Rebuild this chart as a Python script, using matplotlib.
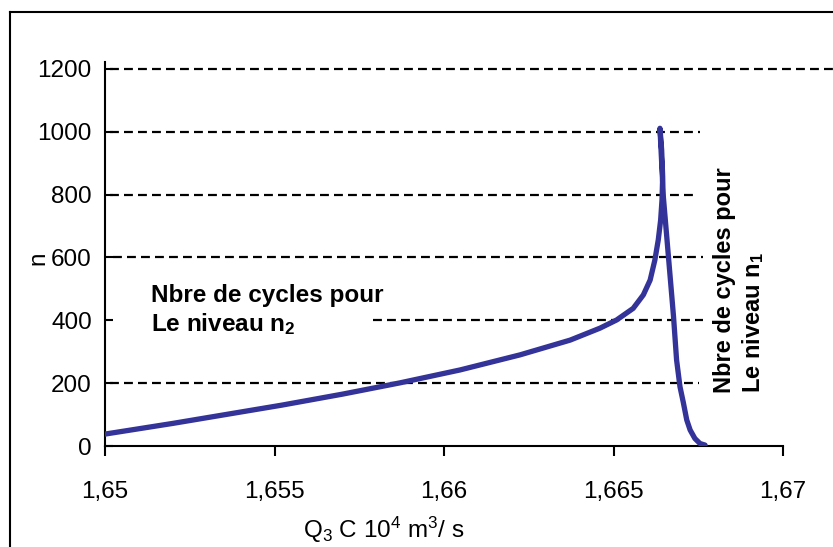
import matplotlib
matplotlib.use("Agg")
import matplotlib.pyplot as plt
from matplotlib.lines import Line2D

plt.rcParams["font.family"] = ["Liberation Sans", "DejaVu Sans"]
plt.rcParams["mathtext.fontset"] = "custom"
plt.rcParams["mathtext.rm"] = "Liberation Sans"
plt.rcParams["mathtext.default"] = "regular"

# ----------------------------------------------------------
# Data : number of cycles n against Q3C
# ----------------------------------------------------------

q3c = [1.65000, 1.65200, 1.65521, 1.65700, 1.65870, 1.66047, 1.66224,
       1.66372, 1.66460, 1.66509, 1.66558, 1.66588, 1.66608, 1.66622,
       1.66632, 1.66639, 1.66643, 1.66645, 1.66642, 1.66637,
       1.66647, 1.66657, 1.66667, 1.66677, 1.66686, 1.66696, 1.66706,
       1.66716, 1.66726, 1.66740, 1.66755, 1.66770]
n_cycles = [38, 72, 130, 165, 201, 242, 290,
            337, 375, 401, 438, 481, 528, 592,
            656, 719, 783, 857, 942, 1011,
            793, 666, 539, 412, 274, 189, 138,
            83, 51, 24, 8, 3]

x_ticks = [1.65, 1.655, 1.66, 1.665, 1.67]
x_tick_labels = ["1,65", "1,655", "1,66", "1,665", "1,67"]
y_ticks = [0, 200, 400, 600, 800, 1000, 1200]

# dashed reference levels and where each one starts / stops
grid_levels = [200, 400, 600, 800, 1000, 1200]
grid_start = [1.65015, 1.65791, 1.65024, 1.65015, 1.65015, 1.65015]
grid_end = [1.66752, 1.66764, 1.66764, 1.66750, 1.66755, 1.6720]

# ----------------------------------------------------------
# Figure
# ----------------------------------------------------------

fig = plt.figure(figsize=(8.33, 5.47), dpi=100)
ax = fig.add_axes([0.1261, 0.1846, 0.8139, 0.7021])

for lev, x0, x1 in zip(grid_levels, grid_start, grid_end):
    ax.plot([x0, x1], [lev, lev], color="black", lw=1.6,
            dashes=(4, 2.3), clip_on=False, zorder=1)

ax.plot(q3c, n_cycles, color="#333399", lw=3.8,
        solid_capstyle="round", solid_joinstyle="round", zorder=3)

ax.set_xlim(1.65, 1.67)
ax.set_ylim(0, 1222)

ax.set_xticks(x_ticks)
ax.set_xticklabels(x_tick_labels)
ax.set_yticks(y_ticks)

ax.tick_params(axis="x", direction="out", length=7, width=1.5,
               pad=18, labelsize=17.5)
ax.tick_params(axis="y", direction="in", length=5.5, width=1.5,
               pad=9.5, labelsize=17.5)

for side in ["top", "right"]:
    ax.spines[side].set_visible(False)
for side in ["left", "bottom"]:
    ax.spines[side].set_linewidth(1.5)

ax.set_xlabel(r"Q$_3$ C 10$^4$ m$^3$/ s", fontsize=17.5, va="center")
ax.xaxis.set_label_coords(0.4115, -0.219)
ax.set_ylabel("n", fontsize=17.5, va="center")
ax.yaxis.set_label_coords(-0.0988, 0.49)

# ----------------------------------------------------------
# Text for the two levels
# ----------------------------------------------------------

fig.text(151 / 833, 1 - 331 / 547, "Nbre de cycles pour\nLe niveau n$_2$",
         fontsize=17.5, fontweight="bold", ha="left", va="baseline",
         linespacing=1.2)

fig.text(713 / 833, 1 - 393 / 547, "Nbre de cycles pour\nLe niveau n$_1$",
         fontsize=17, fontweight="bold", rotation=90,
         ha="left", va="bottom", linespacing=1.2)

# ----------------------------------------------------------
# Outer frame
# ----------------------------------------------------------

fx = 10 / 833
fy = 1 - 12 / 547
fig.add_artist(Line2D([fx, 1.0], [fy, fy], color="black", lw=1.5,
                      transform=fig.transFigure))
fig.add_artist(Line2D([fx, fx], [0.0, fy], color="black", lw=1.5,
                      transform=fig.transFigure))

fig.savefig("out.png", dpi=100)
plt.close(fig)
